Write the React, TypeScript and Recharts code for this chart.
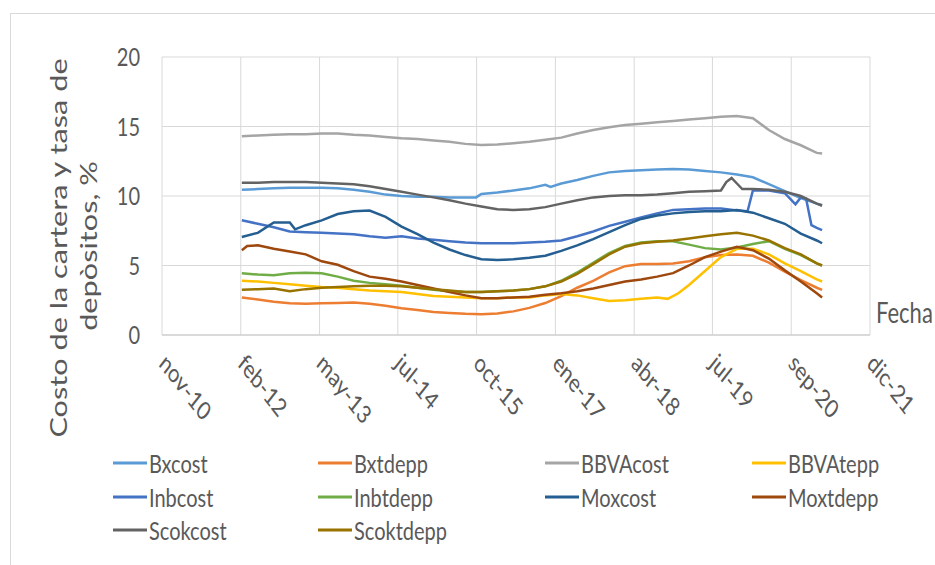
import React from 'react';
import { LineChart, Line, XAxis, YAxis, CartesianGrid, Legend, Label } from 'recharts';

// x values are months counted from nov-10
const X_TICKS = [0, 14.8, 29.6, 44.3, 59.1, 73.9, 88.7, 103.4, 118.2, 133];
const X_LABELS = ['nov-10', 'feb-12', 'may-13', 'jul-14', 'oct-15', 'ene-17', 'abr-18', 'jul-19', 'sep-20', 'dic-21'];
const Y_TICKS = [0, 5, 10, 15, 20];

const bxcost = [[15,10.45],[18,10.5],[21,10.55],[24,10.6],[27,10.6],[30,10.6],[33,10.55],[36,10.45],[39,10.3],[42,10.1],[45,10.0],[48,9.95],[51,9.95],[54,9.9],[57,9.9],[59,9.9],[60,10.15],[63,10.25],[66,10.4],[69,10.55],[72,10.8],[73,10.65],[75,10.9],[78,11.15],[81,11.45],[84,11.7],[87,11.8],[90,11.85],[93,11.9],[96,11.95],[99,11.9],[102,11.8],[105,11.7],[108,11.55],[111,11.35],[114,10.85],[117,10.35],[120,9.85],[123,9.45],[124,9.35]];
const bxtdepp = [[15,2.7],[18,2.55],[21,2.4],[24,2.28],[27,2.25],[30,2.28],[33,2.3],[36,2.33],[39,2.25],[42,2.1],[45,1.92],[48,1.8],[51,1.65],[54,1.58],[57,1.52],[60,1.5],[63,1.55],[66,1.7],[69,1.95],[72,2.3],[75,2.8],[78,3.4],[81,3.9],[84,4.5],[87,4.95],[90,5.1],[93,5.1],[96,5.15],[99,5.3],[102,5.6],[105,5.75],[108,5.8],[111,5.7],[114,5.2],[117,4.55],[120,3.95],[123,3.4],[124,3.25]];
const bbvacost = [[15,14.3],[18,14.35],[21,14.4],[24,14.45],[27,14.45],[30,14.5],[33,14.5],[36,14.4],[39,14.35],[42,14.25],[45,14.15],[48,14.1],[51,14.0],[54,13.9],[57,13.75],[60,13.67],[63,13.7],[66,13.8],[69,13.9],[72,14.05],[75,14.2],[78,14.5],[81,14.75],[84,14.95],[87,15.1],[90,15.2],[93,15.3],[96,15.4],[99,15.5],[102,15.6],[105,15.7],[108,15.75],[111,15.6],[114,14.75],[117,14.1],[120,13.65],[123,13.1],[124,13.05]];
const bbvatepp = [[15,3.9],[18,3.85],[21,3.75],[24,3.65],[27,3.55],[30,3.45],[33,3.4],[36,3.3],[39,3.2],[42,3.15],[45,3.1],[48,2.95],[51,2.8],[54,2.75],[57,2.7],[60,2.65],[63,2.65],[66,2.7],[69,2.7],[72,2.85],[75,2.95],[78,2.85],[81,2.65],[84,2.45],[87,2.5],[90,2.6],[93,2.7],[95,2.6],[97,3.0],[99,3.6],[102,4.6],[105,5.6],[108,6.2],[111,6.2],[114,5.8],[117,5.15],[120,4.6],[123,4.0],[124,3.85]];
const inbcost = [[15,8.25],[18,8.0],[21,7.75],[24,7.45],[27,7.4],[30,7.35],[33,7.3],[36,7.25],[39,7.1],[42,7.0],[45,7.1],[48,6.95],[51,6.85],[54,6.75],[57,6.65],[60,6.6],[63,6.6],[66,6.6],[69,6.65],[72,6.7],[75,6.8],[78,7.1],[81,7.45],[84,7.85],[87,8.15],[90,8.45],[93,8.75],[96,9.0],[99,9.05],[102,9.1],[105,9.1],[108,8.95],[110,8.9],[111,10.4],[114,10.4],[117,10.2],[119,9.4],[120,9.9],[121,9.8],[122,7.9],[123,7.7],[124,7.55]];
const inbtdepp = [[15,4.44],[18,4.35],[21,4.3],[24,4.45],[27,4.48],[30,4.44],[33,4.2],[36,3.9],[39,3.75],[42,3.65],[45,3.55],[48,3.4],[51,3.25],[54,3.15],[57,3.1],[60,3.1],[63,3.15],[66,3.2],[69,3.3],[72,3.5],[75,3.9],[78,4.5],[81,5.2],[84,5.9],[87,6.4],[90,6.65],[93,6.75],[96,6.75],[99,6.5],[102,6.25],[105,6.15],[108,6.3],[111,6.55],[114,6.75],[117,6.2],[120,5.75],[123,5.15],[124,5.0]];
const moxcost = [[15,7.05],[18,7.35],[21,8.1],[24,8.1],[25,7.6],[27,7.9],[30,8.25],[33,8.7],[36,8.9],[39,8.95],[42,8.5],[45,7.8],[48,7.25],[51,6.65],[54,6.15],[57,5.75],[60,5.45],[63,5.4],[66,5.45],[69,5.55],[72,5.7],[75,6.05],[78,6.45],[81,6.9],[84,7.4],[87,7.9],[90,8.35],[93,8.6],[96,8.75],[99,8.85],[102,8.9],[105,8.9],[108,9.0],[111,8.8],[114,8.4],[117,8.0],[120,7.3],[123,6.8],[124,6.6]];
const moxtdepp = [[15,6.1],[16,6.4],[18,6.45],[21,6.2],[24,6.0],[27,5.8],[30,5.3],[33,5.05],[36,4.6],[39,4.2],[42,4.05],[45,3.85],[48,3.6],[51,3.35],[54,3.1],[57,2.85],[60,2.65],[63,2.65],[66,2.7],[69,2.75],[72,2.9],[75,3.0],[78,3.15],[81,3.35],[84,3.6],[87,3.85],[90,4.0],[93,4.2],[96,4.45],[99,5.0],[102,5.6],[105,6.0],[108,6.35],[111,6.1],[114,5.5],[117,4.65],[120,3.85],[123,3.0],[124,2.7]];
const scokcost = [[15,10.95],[18,10.95],[21,11.0],[24,11.0],[27,11.0],[30,10.95],[33,10.9],[36,10.85],[39,10.7],[42,10.5],[45,10.3],[48,10.1],[51,9.9],[54,9.7],[57,9.45],[60,9.25],[63,9.05],[66,9.0],[69,9.05],[72,9.2],[75,9.45],[78,9.7],[81,9.9],[84,10.0],[87,10.05],[90,10.05],[93,10.1],[96,10.2],[99,10.3],[102,10.35],[105,10.4],[106,11.0],[107,11.3],[108,10.9],[109,10.5],[111,10.5],[114,10.45],[117,10.3],[120,10.0],[123,9.45],[124,9.3]];
const scoktdepp = [[15,3.25],[18,3.3],[21,3.35],[24,3.15],[27,3.3],[30,3.4],[33,3.45],[36,3.5],[39,3.55],[42,3.55],[45,3.5],[48,3.4],[51,3.3],[54,3.2],[57,3.1],[60,3.1],[63,3.15],[66,3.2],[69,3.3],[72,3.5],[75,3.85],[78,4.4],[81,5.1],[84,5.8],[87,6.35],[90,6.6],[93,6.7],[96,6.8],[99,6.95],[102,7.1],[105,7.25],[108,7.35],[111,7.15],[114,6.8],[117,6.25],[120,5.8],[123,5.15],[124,5.0]];

const SERIES = [
  { name: 'Bxcost', color: '#5B9BD5', values: bxcost },
  { name: 'Bxtdepp', color: '#ED7D31', values: bxtdepp },
  { name: 'BBVAcost', color: '#A5A5A5', values: bbvacost },
  { name: 'BBVAtepp', color: '#FFC000', values: bbvatepp },
  { name: 'Inbcost', color: '#4472C4', values: inbcost },
  { name: 'Inbtdepp', color: '#70AD47', values: inbtdepp },
  { name: 'Moxcost', color: '#255E91', values: moxcost },
  { name: 'Moxtdepp', color: '#9E480E', values: moxtdepp },
  { name: 'Scokcost', color: '#636363', values: scokcost },
  { name: 'Scoktdepp', color: '#997300', values: scoktdepp },
];

const FONT = 'Lato, "Open Sans", sans-serif';
const TXT = '#595959';
const SY = 1.28;
const LEGEND_COLS = [113, 318, 545, 752];
const LEGEND_ROWS = [463, 497, 530];

const XTick = (props: any) => {
  const { x, y, index } = props;
  const x0 = x - 4;
  const y0 = y + 30;
  return (
    <text
      transform={`translate(${x0},${y0}) scale(1,${SY}) rotate(45)`}
      x={0}
      y={0}
      textAnchor="start"
      fill={TXT}
      fontSize={20}
      fontFamily={FONT}
    >
      {X_LABELS[index]}
    </text>
  );
};

const YTick = (props: any) => {
  const { x, y, payload } = props;
  return (
    <text
      transform={`translate(${x},${y}) scale(1,${SY})`}
      x={0}
      y={0}
      dy="0.36em"
      textAnchor="end"
      fill={TXT}
      fontSize={20}
      fontFamily={FONT}
    >
      {payload.value}
    </text>
  );
};

const YTitle = () => (
  <g>
    <text
      transform={`translate(67,248) scale(1,${SY}) rotate(-90)`}
      textAnchor="middle"
      fill={TXT}
      fontSize={24}
      fontFamily={FONT}
    >
      Costo de la cartera y tasa de
    </text>
    <text
      transform={`translate(97,246) scale(1,${SY}) rotate(-90)`}
      textAnchor="middle"
      fill={TXT}
      fontSize={24}
      fontFamily={FONT}
    >
      depòsitos, %
    </text>
  </g>
);

const LegendContent = () => (
  <div style={{ position: 'relative', width: 935, height: 120 }}>
    {SERIES.map((s, i) => {
      const col = i % 4;
      const row = Math.floor(i / 4);
      const left = LEGEND_COLS[col];
      const top = LEGEND_ROWS[row] - 440;
      return (
        <div
          key={s.name}
          style={{ position: 'absolute', left, top: top - 14, height: 28, display: 'flex', alignItems: 'center' }}
        >
          <svg width={34} height={6} style={{ display: 'block' }}>
            <line x1={0} y1={3} x2={34} y2={3} stroke={s.color} strokeWidth={3} />
          </svg>
          <span
            style={{
              marginLeft: 2,
              fontFamily: FONT,
              fontSize: 20,
              color: TXT,
              display: 'inline-block',
              transform: `scaleY(${SY})`,
              lineHeight: '28px',
              whiteSpace: 'nowrap',
            }}
          >
            {s.name}
          </span>
        </div>
      );
    })}
  </div>
);

export default function App() {
  return (
    <div style={{ position: 'absolute', left: 0, top: 0, width: 935, height: 565, background: '#fff', overflow: 'hidden' }}>
      <div
        style={{
          position: 'absolute',
          left: 10,
          top: 13,
          width: 940,
          height: 570,
          borderLeft: '1px solid #D9D9D9',
          borderTop: '1px solid #D9D9D9',
        }}
      />
      <LineChart width={935} height={565} margin={{ top: 57, right: 65, bottom: 200, left: 0 }}>
        <CartesianGrid stroke="#D9D9D9" strokeWidth={1} />
        <XAxis
          type="number"
          dataKey="t"
          domain={[0, 133]}
          ticks={X_TICKS}
          interval={0}
          allowDataOverflow
          height={30}
          tickSize={0}
          tickMargin={0}
          tickLine={false}
          axisLine={{ stroke: '#C8C8C8' }}
          tick={<XTick />}
        />
        <YAxis
          type="number"
          domain={[0, 20]}
          ticks={Y_TICKS}
          interval={0}
          width={162}
          tickSize={0}
          tickMargin={22}
          tickLine={false}
          axisLine={false}
          tick={<YTick />}
        >
          <Label content={<YTitle />} />
        </YAxis>
        {SERIES.map((s) => (
          <Line
            key={s.name}
            name={s.name}
            data={s.values.map(([t, v]) => ({ t, v }))}
            dataKey="v"
            type="linear"
            stroke={s.color}
            strokeWidth={2.5}
            dot={false}
            activeDot={false}
            isAnimationActive={false}
          />
        ))}
        <Legend
          layout="horizontal"
          verticalAlign="middle"
          align="center"
          wrapperStyle={{ left: 0, top: 440, width: 935, height: 120 }}
          content={<LegendContent />}
        />
      </LineChart>
      <div
        style={{
          position: 'absolute',
          left: 876,
          top: 296,
          fontFamily: FONT,
          fontSize: 22,
          color: TXT,
          transform: `scaleY(${SY})`,
          transformOrigin: 'left top',
          whiteSpace: 'nowrap',
          lineHeight: '26px',
        }}
      >
        Fecha
      </div>
    </div>
  );
}
